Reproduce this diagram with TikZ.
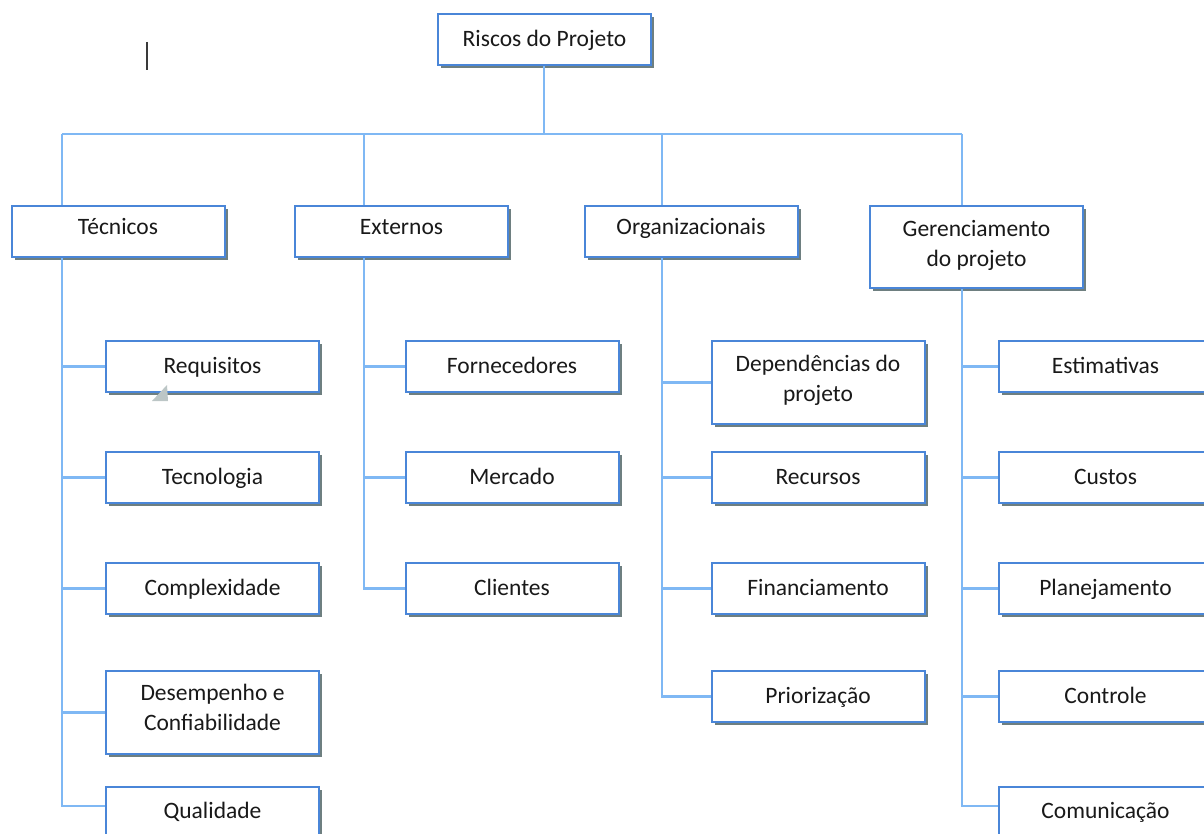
\documentclass[tikz,border=0pt]{standalone}
\usepackage{fontspec}
\setmainfont{Carlito}
\usetikzlibrary{shadows}
\definecolor{boxblue}{HTML}{4A86D8}
\definecolor{linkblue}{HTML}{7FB8F4}
\definecolor{shadowgray}{HTML}{6E7F80}
\definecolor{cursorgray}{HTML}{3A3A3A}
\definecolor{arrowgray}{HTML}{BCC6C6}
\tikzset{
  bx/.style={draw=boxblue, line width=2pt, fill=white, rectangle,
    minimum width=213pt, minimum height=51pt, inner sep=0pt, align=center,
    text height=17pt, text depth=4pt,
    font=\fontsize{23.5}{30}\selectfont, text=black!90,
    drop shadow={shadow xshift=3pt, shadow yshift=-3pt, fill=shadowgray, opacity=1}},
  upper/.style={text depth=10pt},
  twoline/.style={text height=47pt, text depth=9pt, minimum height=83pt},
  link/.style={draw=linkblue, line width=2.2pt}
}
\begin{document}
\begin{tikzpicture}[x=1pt,y=-1pt]
\useasboundingbox (0,0) rectangle (1204,834);
% stem coordinates
\coordinate (bus) at (544,134);
\coordinate (tx) at (62,134);
\coordinate (ex) at (364,134);
\coordinate (ox) at (662,134);
\coordinate (gx) at (962,134);
% boxes
\node[bx] (root) at (544.5,40) {Riscos do Projeto};
\node[bx, upper] (tec) at (118,231.5) {Técnicos};
\node[bx, upper] (ext) at (401.5,231.5) {Externos};
\node[bx, upper] (org) at (691,231.5) {Organizacionais};
\node[bx, twoline, minimum height=82pt] (ger) at (976.5,247) {Gerenciamento\\do projeto};
% Técnicos children
\node[bx] (req) at (212.5,366.5) {Requisitos};
\node[bx] (tecn) at (212.5,477.5) {Tecnologia};
\node[bx] (comp) at (212.5,588.5) {Complexidade};
\node[bx, twoline, text depth=11pt] (des) at (212.5,712.5) {Desempenho e\\Confiabilidade};
\node[bx] (qual) at (212.5,812) {Qualidade};
% Externos children
\node[bx] (forn) at (512,366.5) {Fornecedores};
\node[bx] (merc) at (512,477.5) {Mercado};
\node[bx] (cli) at (512,588.5) {Clientes};
% Organizacionais children
\node[bx, twoline] (dep) at (818,382.5) {Dependências do\\projeto};
\node[bx] (rec) at (818,477.5) {Recursos};
\node[bx] (fin) at (818,588.5) {Financiamento};
\node[bx] (pri) at (818,696.5) {Priorização};
% Gerenciamento children
\node[bx] (est) at (1105.5,366.5) {Estimativas};
\node[bx] (cus) at (1105.5,477.5) {Custos};
\node[bx] (pla) at (1105.5,588.5) {Planejamento};
\node[bx] (con) at (1105.5,696.5) {Controle};
\node[bx] (comu) at (1105.5,812) {Comunicação};
% connectors
\draw[link] (root.south -| bus) -- (bus);
\draw[link] (tx) -- (gx);
\draw[link] (tx) -- (tx |- tec.north);
\draw[link] (ex) -- (ex |- ext.north);
\draw[link] (ox) -- (ox |- org.north);
\draw[link] (gx) -- (gx |- ger.north);
\foreach \c in {req,tecn,comp,des} \draw[link] (tx |- tec.south) |- (\c.west);
\draw[link] (tx |- tec.south) |- ([yshift=6pt]qual.west);
\foreach \c in {forn,merc,cli} \draw[link] (ex |- ext.south) |- (\c.west);
\foreach \c in {dep,rec,fin,pri} \draw[link] (ox |- org.south) |- (\c.west);
\foreach \c in {est,cus,pla,con} \draw[link] (gx |- ger.south) |- (\c.west);
\draw[link] (gx |- ger.south) |- ([yshift=6pt]comu.west);
% text cursor and pointer artefacts
\draw[cursorgray, line width=2pt] (147,42) -- (147,70);
\fill[arrowgray] (152,401) -- (168,401) -- (167,385) -- cycle;
\end{tikzpicture}
\end{document}
